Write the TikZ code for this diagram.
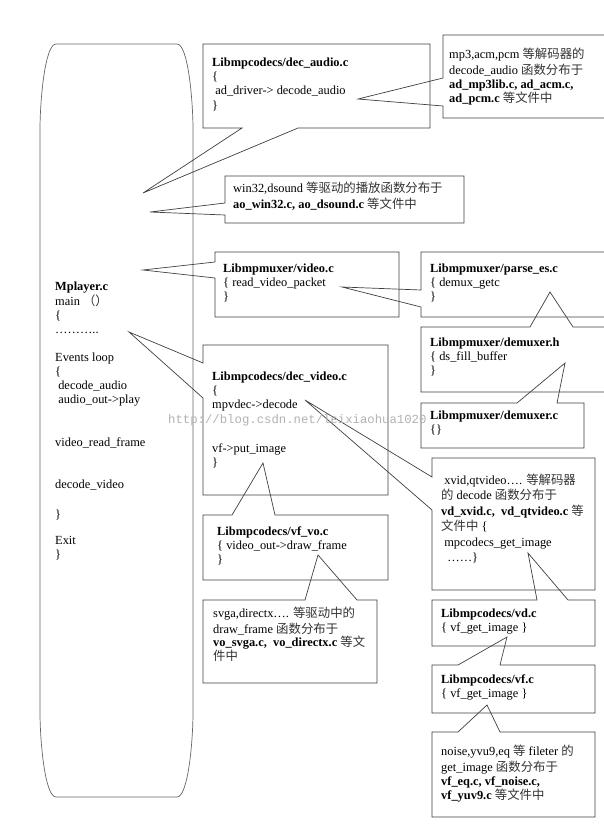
\documentclass[tikz,border=0pt]{standalone}
\usepackage{fontspec}
\setmainfont{Liberation Serif}
\setmonofont{Liberation Mono}
\newfontfamily\cjk{Noto Sans CJK SC}
\newcommand\zh[1]{{\cjk\color{black!80}#1}}
\tikzset{
	box/.style={draw=black!75, line width=0.7pt, line join=miter},
	txt/.style={anchor=north west, inner sep=0pt, align=left, font=\fontsize{12.4}{14.3}\selectfont},
}
\begin{document}
\begin{tikzpicture}[x=1pt,y=-1pt]
		\useasboundingbox (0,0) rectangle (604,827);
		\fill[white] (0,0) rectangle (604,827);
		% pointer tips
		\coordinate (tipA) at (143,193);
		\coordinate (tipB) at (358,99);
		\coordinate (tipC) at (150,212);
		\coordinate (tipD) at (143,270);
		\coordinate (tipE) at (342,287);
		\coordinate (tipF) at (550,292);
		\coordinate (tipG) at (565,363);
		\coordinate (tipH) at (129,332);
		\coordinate (tipI) at (263,463);
		\coordinate (tipJ) at (318,555);
		\coordinate (tipK) at (305,400);
		\coordinate (tipL) at (528,553);
		\coordinate (tipM) at (507,637);
		\coordinate (tipN) at (487,705);
		% Mplayer.c
		\draw[box,draw=black!60] (56,44) -- (177,44) .. controls (188,44) and (193,100) .. (193,130) -- (193,712) .. controls (193,742) and (188,797) .. (177,797) -- (56,797) .. controls (45,797) and (40,742) .. (40,712) -- (40,130) .. controls (40,100) and (45,44) .. (56,44) -- cycle;
		\node[txt,font=\fontsize{12.4}{14}\selectfont](mplayer) at (55,280) {\strut\textbf{Mplayer.c}\\ main \zh{（）}\\ \{\\ ………..\\[14pt] Events loop\\ \{\\ \ decode\_audio\\ \ audio\_out->play\\[29pt] video\_read\_frame\\[28pt] decode\_video\\[16pt] \}\\[12pt] Exit\\ \}};
		% audio
		\draw[box] (203,44) -- (430,44) -- (430,128) -- (298,128) -- (tipA) -- (242,128) -- (203,128) -- cycle;
		\node[txt](decaudio) at (212,56) {\strut\textbf{Libmpcodecs/dec\_audio.c}\\ \{\\ \ ad\_driver-> decode\_audio\\ \}};
		\draw[box] (443,35) -- (606,35) -- (606,118) -- (443,118) -- (443,106) -- (tipB) -- (443,78) -- cycle;
		\node[txt](admp3) at (449,48) {\strut mp3,acm,pcm \zh{等解码器的}\\ decode\_audio \zh{函数分布于}\\ \textbf{ad\_mp3lib.c, ad\_acm.c,}\\ \textbf{ad\_pcm.c} \zh{等文件中}};
		\draw[box] (225,176) -- (464,176) -- (464,223) -- (225,223) -- (225,215) -- (tipC) -- (225,203) -- cycle;
		\node[txt](aowin) at (233,182) {\strut win32,dsound \zh{等驱动的播放函数分布于}\\ \textbf{ao\_win32.c, ao\_dsound.c} \zh{等文件中}};
		% demuxer
		\draw[box] (215,252) -- (399,252) -- (399,317) -- (215,317) -- (215,278) -- (tipD) -- (215,262) -- cycle;
		\node[txt](video) at (223,262) {\strut\textbf{Libmpmuxer/video.c}\\ \{ read\_video\_packet\\ \}};
		\draw[box] (421,252) -- (606,252) -- (606,317) -- (421,317) -- (421,307) -- (tipE) -- (421,290) -- cycle;
		\node[txt](parsees) at (430,262) {\strut\textbf{Libmpmuxer/parse\_es.c}\\ \{ demux\_getc\\ \}};
		\draw[box] (421,327) -- (530,327) -- (tipF) -- (573,327) -- (606,327) -- (606,392) -- (421,392) -- cycle;
		\node[txt](demuxh) at (430,336) {\strut\textbf{Libmpmuxer/demuxer.h}\\ \{ ds\_fill\_buffer\\ \}};
		\draw[box] (421,403) -- (517,403) -- (tipG) -- (557,403) -- (584,403) -- (584,448) -- (421,448) -- cycle;
		\node[txt](demuxc) at (430,409) {\strut\textbf{Libmpmuxer/demuxer.c}\\ \{\}};
		% video decoding
		\draw[box] (203,345) -- (388,345) -- (388,495) -- (203,495) -- (203,398) -- (tipH) -- (203,363) -- cycle;
		\node[txt](decvideo) at (212,370) {\strut\textbf{Libmpcodecs/dec\_video.c}\\ \{\\ mpvdec->decode\\[29pt] vf->put\_image\\ \}};
		\draw[box] (203,515) -- (232,515) -- (tipI) -- (275,515) -- (388,515) -- (388,580) -- (203,580) -- cycle;
		\node[txt](vfvo) at (217,525) {\strut\textbf{Libmpcodecs/vf\_vo.c}\\ \{ video\_out->draw\_frame\\ \}};
		\draw[box] (203,600) -- (305,600) -- (tipJ) -- (357,600) -- (377,600) -- (377,683) -- (203,683) -- cycle;
		\node[txt,font=\fontsize{12.4}{13.5}\selectfont](vosvga) at (213,607) {\strut svga,directx…. \zh{等驱动中的}\\ draw\_frame \zh{函数分布于}\\ \textbf{vo\_svga.c,\ \ vo\_directx.c} \zh{等文}\\ \zh{件中}};
		\draw[box] (432,458) -- (595,458) -- (595,590) -- (432,590) -- (432,510) -- (tipK) -- (432,477) -- cycle;
		\node[txt,font=\fontsize{12.4}{15.5}\selectfont](vdxvid) at (441,473) {\strut\ xvid,qtvideo…. \zh{等解码器}\\ \zh{的} decode \zh{函数分布于}\\ \textbf{vd\_xvid.c,\ \ vd\_qtvideo.c} \zh{等}\\ \zh{文件中} \{\\ \ mpcodecs\_get\_image\\ \ \ ……\}};
		\draw[box] (432,600) -- (537,600) -- (tipL) -- (568,600) -- (595,600) -- (595,646) -- (432,646) -- cycle;
		\node[txt](vd) at (441,607) {\strut\textbf{Libmpcodecs/vd.c}\\ \{ vf\_get\_image \}};
		\draw[box] (432,665) -- (458,665) -- (tipM) -- (500,665) -- (595,665) -- (595,713) -- (432,713) -- cycle;
		\node[txt](vf) at (441,673) {\strut\textbf{Libmpcodecs/vf.c}\\ \{ vf\_get\_image \}};
		\draw[box] (432,732) -- (458,732) -- (tipN) -- (500,732) -- (595,732) -- (595,817) -- (432,817) -- cycle;
		\node[txt,font=\fontsize{12.4}{14}\selectfont](vfeq) at (441,745) {\strut noise,yvu9,eq \zh{等} fileter \zh{的}\\ get\_image \zh{函数分布于}\\ \textbf{vf\_eq.c, vf\_noise.c,}\\ \textbf{vf\_yuv9.c} \zh{等文件中}};
		% watermark
		\node[anchor=base west, inner sep=0pt, font=\fontsize{12.3}{12.3}\ttfamily, text=black!30](mark) at (168,423) {http://blog.csdn.net/leixiaohua1020};
\end{tikzpicture}
\end{document}
